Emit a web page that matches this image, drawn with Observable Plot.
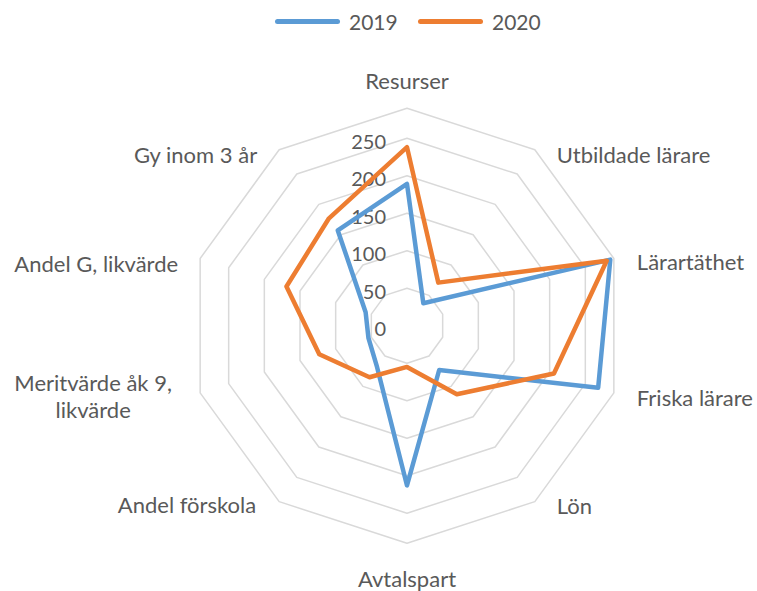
<!DOCTYPE html>
<html>
<head>
<meta charset="utf-8">
<script src="https://cdn.jsdelivr.net/npm/d3@7"></script>
<script src="https://cdn.jsdelivr.net/npm/@observablehq/plot@0.6"></script>
<style>
  html, body { margin: 0; padding: 0; background: #fff; }
  #wrap { width: 757px; font-family: Lato, "Open Sans", sans-serif; }
  #legend { height: 44px; position: relative; }
  .sw { position: absolute; top: 19px; height: 5px; border-radius: 3px; width: 65px; }
  .lt { position: absolute; top: 9px; font-size: 21px; color: #595959; line-height: 26px; }
</style>
</head>
<body>
<div id="wrap">
  <div id="legend"></div>
  <div id="chart"></div>
</div>
<script>
// ---- data ----
const categories = ["Resurser", "Utbildade lärare", "Lärartäthet", "Friska lärare", "Lön",
  "Avtalspart", "Andel förskola", "Meritvärde åk 9,\nlikvärde", "Andel G, likvärde", "Gy inom 3 år"];
const seriesNames = ["2019", "2020"];
const values2019 = [189, 37, 285, 268, 73, 213, 68, 54, 58, 157];
const values2020 = [238, 71, 280, 206, 113, 55, 85, 123, 169, 177];
const ringValues = [50, 100, 150, 200, 250, 290];
const tickValues = [0, 50, 100, 150, 200, 250];
const axisMax = 290;

// ---- layout ----
const W = 757, H = 547, cx = 406.5, cy = 281.2, k = 0.75;
const colors = ["#5B9BD5", "#ED7D31"];
const textColor = "#595959";
const labelSize = 22, tickSize = 20;
const n = categories.length;
const ang = i => (i * 2 * Math.PI) / n;
const px = (r, i) => r * Math.sin(ang(i));
const py = (r, i) => r * Math.cos(ang(i));

// label placement per category: [anchor, dx, dy]
const labelLayout = [
  ["middle", 0, -28], ["start", 22, 5], ["start", 23, 3], ["start", 23, 4], ["start", 22, 4],
  ["middle", 0, 35], ["end", -23, 3], ["middle", -107, 3], ["end", -22, 5], ["end", -22, 5]
];

// legend
const legend = document.getElementById("legend");
const legendPos = [[275, 349], [418, 492]];
seriesNames.forEach((s, j) => {
  const sw = document.createElement("div");
  sw.className = "sw"; sw.style.left = legendPos[j][0] + "px"; sw.style.background = colors[j];
  const t = document.createElement("div");
  t.className = "lt"; t.style.left = legendPos[j][1] + "px"; t.textContent = s;
  legend.appendChild(sw); legend.appendChild(t);
});

// data tables
const rings = ringValues.flatMap(v => d3.range(n).map(i => ({ring: v, x: px(v, i), y: py(v, i)})));
const series = [values2019, values2020].map((vals, j) =>
  vals.map((v, i) => ({series: seriesNames[j], x: px(v, i), y: py(v, i)})));

const marks = [
  Plot.line(rings, {x: "x", y: "y", z: "ring", curve: "linear-closed", stroke: "#D9D9D9", strokeWidth: 1.5}),
  Plot.text(tickValues, {x: 0, y: d => d, text: d => String(d), textAnchor: "end", dx: -21, dy: 4,
    fill: textColor, fontSize: tickSize}),
  ...series.map((s, j) => Plot.line(s, {x: "x", y: "y", curve: "linear-closed", stroke: colors[j],
    strokeWidth: 4.5, strokeLinejoin: "round"})),
  ...categories.map((c, i) => Plot.text([i], {
    x: d => px(axisMax, d), y: d => py(axisMax, d), text: d => categories[d],
    textAnchor: labelLayout[i][0], dx: labelLayout[i][1], dy: labelLayout[i][2],
    lineAnchor: "middle", lineHeight: 1.23, fill: textColor, fontSize: labelSize
  }))
];

const chart = Plot.plot({
  width: W, height: H, margin: 0,
  style: {fontFamily: "Lato, 'Open Sans', sans-serif", background: "#fff", overflow: "visible"},
  x: {domain: [-cx / k, (W - cx) / k], axis: null},
  y: {domain: [-(H - cy) / k, cy / k], axis: null},
  marks
});
document.getElementById("chart").appendChild(chart);
</script>
</body>
</html>
